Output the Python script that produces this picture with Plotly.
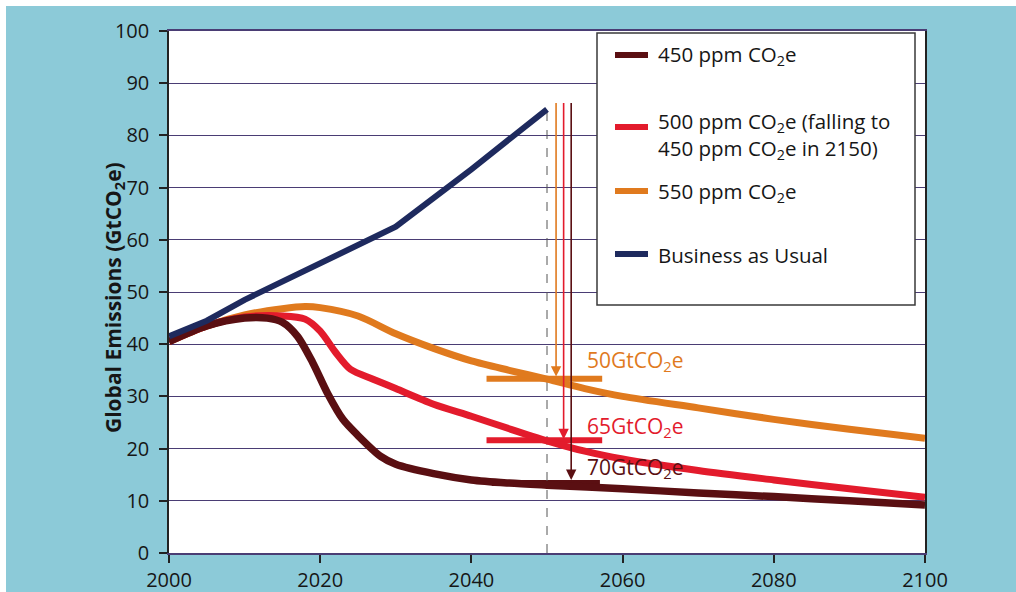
import plotly.graph_objects as go

# ---------------- data ----------------
years_bau = [2000, 2005, 2010, 2015, 2020, 2025, 2030, 2040, 2050]
bau = [41.5, 44.5, 48.5, 52, 55.5, 59, 62.5, 73.5, 85]

years_550 = [2000, 2005, 2010, 2015, 2018, 2020, 2025, 2030, 2035, 2040, 2045, 2050,
             2055, 2060, 2070, 2080, 2090, 2100]
ppm550 = [40.5, 43.5, 45.6, 46.8, 47.2, 47, 45.4, 42, 39.2, 36.8, 35, 33.3,
          31.5, 30, 27.8, 25.6, 23.7, 22]

years_500 = [2000, 2005, 2010, 2015, 2018, 2020, 2022, 2024, 2027, 2030, 2035, 2040,
             2045, 2050, 2055, 2060, 2070, 2080, 2090, 2100]
ppm500 = [40.5, 43.5, 45.2, 45.4, 44.8, 42.5, 38.5, 35.2, 33.3, 31.5, 28.5, 26.2,
          23.8, 21.5, 19.5, 18, 15.8, 14, 12.3, 10.7]

years_450 = [2000, 2005, 2010, 2013, 2015, 2017, 2019, 2021, 2023, 2025, 2028, 2030,
             2035, 2040, 2045, 2050, 2060, 2070, 2080, 2090, 2100]
ppm450 = [40.5, 43.5, 45, 45, 44.2, 41.5, 36.5, 30.5, 25.6, 22.5, 18.5, 17,
          15.2, 14, 13.4, 13, 12.3, 11.5, 10.8, 10, 9.2]

x_ticks = [2000, 2020, 2040, 2060, 2080, 2100]
y_ticks = [0, 10, 20, 30, 40, 50, 60, 70, 80, 90, 100]

# cut markers at 2050
cut_year = 2050
bar_x = [2042, 2057.3]
bar_x_450 = [2042.7, 2057]
bar_levels = [33.4, 21.6, 13.4]          # 550, 500, 450
arrow_x = [2051.2, 2052.2, 2053.2]
arrow_top = 86.5
arrow_tip = [33.8, 21.8, 14.0]
cut_labels = ["50GtCO<sub>2</sub>e", "65GtCO<sub>2</sub>e", "70GtCO<sub>2</sub>e"]
label_x = 2055
label_y = [36.8, 24.2, 16.3]

legend_names = ["450 ppm CO<sub>2</sub>e",
                "500 ppm CO<sub>2</sub>e (falling to<br>450 ppm CO<sub>2</sub>e in 2150)",
                "550 ppm CO<sub>2</sub>e",
                "Business as Usual"]

# ---------------- style ----------------
C450 = "#5a0f12"
C500 = "#e31b2c"
C550 = "#e07a1e"
CBAU = "#1e2a5e"
GRID = "#4a3d74"
BG = "#8ccad8"
FONT = "Open Sans"
TXT = "#161616"

fig = go.Figure()

# horizontal cut bars
fig.add_trace(go.Scatter(x=bar_x, y=[bar_levels[0]] * 2, mode="lines",
                         line=dict(color=C550, width=6), showlegend=False, hoverinfo="skip"))
fig.add_trace(go.Scatter(x=bar_x, y=[bar_levels[1]] * 2, mode="lines",
                         line=dict(color=C500, width=6), showlegend=False, hoverinfo="skip"))
fig.add_trace(go.Scatter(x=bar_x_450, y=[bar_levels[2]] * 2, mode="lines",
                         line=dict(color=C450, width=6), showlegend=False, hoverinfo="skip"))

# dashed line at 2050
fig.add_trace(go.Scatter(x=[cut_year, cut_year], y=[0, bau[-1]], mode="lines",
                         line=dict(color="#555555", width=1, dash="dash"),
                         showlegend=False, hoverinfo="skip"))

fig.add_trace(go.Scatter(x=years_550, y=ppm550, mode="lines", name="550",
                         line=dict(color=C550, width=7, shape="spline", smoothing=0.8),
                         showlegend=False))
fig.add_trace(go.Scatter(x=years_500, y=ppm500, mode="lines", name="500",
                         line=dict(color=C500, width=7, shape="spline", smoothing=0.8),
                         showlegend=False))
fig.add_trace(go.Scatter(x=years_450, y=ppm450, mode="lines", name="450",
                         line=dict(color=C450, width=7.5, shape="spline", smoothing=0.8),
                         showlegend=False))
fig.add_trace(go.Scatter(x=years_bau, y=bau, mode="lines", name="BAU",
                         line=dict(color=CBAU, width=6),
                         showlegend=False))

annotations = []
colors = [C550, C500, C450]
for i in range(3):
    annotations.append(dict(x=arrow_x[i], y=arrow_tip[i], ax=arrow_x[i], ay=arrow_top,
                            xref="x", yref="y", axref="x", ayref="y", text="",
                            showarrow=True, arrowhead=2, arrowsize=1.3, arrowwidth=1.6,
                            arrowcolor=colors[i], standoff=0, startstandoff=0))
    annotations.append(dict(x=label_x, y=label_y[i], xref="x", yref="y",
                            text=cut_labels[i], showarrow=False, xanchor="left",
                            yanchor="middle",
                            font=dict(family=FONT, size=21, color=colors[i])))

# pixel -> paper helpers
L, R, T = 169, 925, 31
B = 553
W = R - L
H = B - T
def px(x): return (x - L) / W
def py(y): return (B - y) / H

# y title
annotations.append(dict(x=px(97), y=py(298), xref="paper", yref="paper",
                        text="<b>Global Emissions (GtCO<sub>2</sub>e)</b>",
                        textangle=-90, showarrow=False,
                        font=dict(family=FONT, size=21, color=TXT)))

shapes = [
    # white page strips at top and left edges
    dict(type="rect", xref="paper", yref="paper", x0=px(-10), x1=px(1030), y0=py(6), y1=py(-10),
         fillcolor="white", line=dict(width=0), layer="below"),
    dict(type="rect", xref="paper", yref="paper", x0=px(-10), x1=px(6), y0=py(610), y1=py(-10),
         fillcolor="white", line=dict(width=0), layer="below"),
    # legend box
    dict(type="rect", xref="paper", yref="paper", x0=px(597), x1=px(915), y0=py(305), y1=py(33),
         fillcolor="white", line=dict(color="#3a3a3a", width=1.5), layer="above"),
]
leg_colors = [C450, C500, C550, CBAU]
leg_sample_y = [55, 127, 191, 254]
leg_text_y = [55, 135, 192, 255]
for c, sy, ty, name in zip(leg_colors, leg_sample_y, leg_text_y, legend_names):
    shapes.append(dict(type="line", xref="paper", yref="paper", x0=px(615), x1=px(648),
                       y0=py(sy), y1=py(sy), line=dict(color=c, width=6), layer="above"))
    annotations.append(dict(x=px(656), y=py(ty), xref="paper", yref="paper", text=name,
                            showarrow=False, xanchor="left", yanchor="middle", align="left",
                            font=dict(family=FONT, size=20.5, color=TXT)))

fig.update_layout(
    width=1016, height=592,
    autosize=False,
    margin=dict(l=L, r=1016 - R, t=T, b=592 - B, pad=0, autoexpand=False),
    paper_bgcolor=BG,
    plot_bgcolor="white",
    font=dict(family=FONT, size=19, color=TXT),
    showlegend=False,
    shapes=shapes,
    annotations=annotations,
    xaxis=dict(range=[2000, 2100], tickvals=x_ticks, showgrid=False, zeroline=False,
               automargin=False,
               ticks="outside", ticklen=8, tickcolor="#222", tickwidth=1.5,
               showline=True, linecolor=GRID, linewidth=1.5, mirror=True,
               tickfont=dict(family=FONT, size=20, color=TXT)),
    yaxis=dict(range=[0, 100], tickvals=y_ticks, showgrid=True, gridcolor=GRID, gridwidth=1.3,
               automargin=False,
               zeroline=False, ticks="outside", ticklen=8, tickcolor="#222", tickwidth=1.5,
               showline=True, linecolor="#222", linewidth=1.5, mirror=True,
               ticklabelstandoff=6,
               tickfont=dict(family=FONT, size=20, color=TXT)),
)

fig.write_html("out.html",
               config={"displayModeBar": False},
               post_script=("document.body.style.margin='0';"
                            "document.body.style.overflow='hidden';"
                            "document.body.style.background='" + BG + "';"))
